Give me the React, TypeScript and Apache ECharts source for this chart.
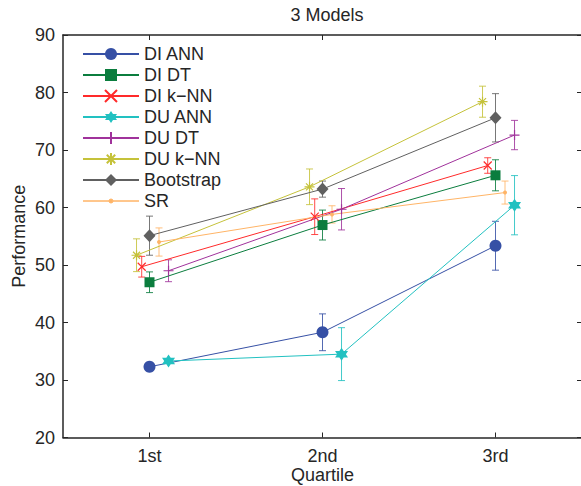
import React, { useEffect, useRef } from "react";
import * as echarts from "echarts";

// ---- data ----
const quartileLabels = ["1st", "2nd", "3rd"];
const quartilePos = [1, 2, 3];
const seriesNames = ["DI ANN", "DI DT", "DI k\u2212NN", "DU ANN", "DU DT", "DU k\u2212NN", "Bootstrap", "SR"];
// horizontal dodge of each model around the quartile position (in x units)
const xOffsets = [0, 0, -0.045, 0.11, 0.11, -0.075, 0, 0.055];

const diAnn = [32.3, 38.3, 53.35];
const diDt = [47.0, 56.95, 65.6];
const diKnn = [49.7, 58.4, 67.3];
const duAnn = [33.3, 34.5, 60.4];
const duDt = [49.0, 59.7, 72.6];
const duKnn = [51.7, 63.6, 78.4];
const bootstrap = [55.1, 63.2, 75.6];
const sr = [54.0, 58.8, 62.6];

const diAnnErr = [0.4, 3.2, 4.25];
const diDtErr = [1.8, 2.6, 2.7];
const diKnnErr = [1.8, 3.1, 1.35];
const duAnnErr = [0.4, 4.6, 5.15];
const duDtErr = [1.9, 3.6, 2.55];
const duKnnErr = [2.85, 3.1, 2.7];
const bootstrapErr = [3.4, 1.4, 4.2];
const srErr = [2.45, 1.5, 2.0];

const allValues = [diAnn, diDt, diKnn, duAnn, duDt, duKnn, bootstrap, sr];
const allErrs = [diAnnErr, diDtErr, diKnnErr, duAnnErr, duDtErr, duKnnErr, bootstrapErr, srErr];

// ---- styles ----
const colors = ["#3650a5", "#0b7d3e", "#ff2a2a", "#22c1c1", "#a0329b", "#c5c23a", "#606060", "#ffb466"];
const FONT = "'Liberation Sans', Arial, Helvetica, sans-serif";
const TXT = "#262626";

const hexagram =
  "path://M10 0 L12.887 5 L18.66 5 L15.774 10 L18.66 15 L12.887 15 L10 20 L7.113 15 L1.34 15 L4.226 10 L1.34 5 L7.113 5 Z";
const xMark = "path://M0 0 L10 10 M10 0 L0 10";
const plusMark = "path://M5 0 L5 10 M0 5 L10 5";
const starMark = "path://M5 0 L5 10 M0 5 L10 5 M1.5 1.5 L8.5 8.5 M8.5 1.5 L1.5 8.5";
const dotLegendIcon = "path://M0 2 L26 2 A2 2 0 1 1 30 2 L56 2 L30 2 A2 2 0 1 1 26 2 Z";

const symbols = ["circle", "rect", xMark, hexagram, plusMark, starMark, "diamond", "circle"];
const symbolSizes: any[] = [12, 10, 8, 13, 10, 10, [12, 13], 4];
const strokeMarks = [false, false, true, false, true, true, false, false];

export default function App() {
  const ref = useRef<HTMLDivElement>(null);

  useEffect(() => {
    if (!ref.current) return;
    const chart = echarts.init(ref.current, null, { renderer: "svg" });

    const errSeries: any[] = allValues.map((vals, i) => ({
      type: "custom",
      name: seriesNames[i] + " err",
      data: vals.map((v, j) => [quartilePos[j] + xOffsets[i], v - allErrs[i][j], v + allErrs[i][j]]),
      encode: { x: 0, y: [1, 2] },
      z: 2,
      silent: true,
      renderItem: (params: any, api: any) => {
        const x = api.value(0);
        const top = api.coord([x, api.value(2)]);
        const bot = api.coord([x, api.value(1)]);
        const w = 3.5;
        const style = { stroke: colors[i], lineWidth: 1, opacity: 0.85 };
        return {
          type: "group",
          children: [
            { type: "line", shape: { x1: top[0], y1: top[1], x2: bot[0], y2: bot[1] }, style },
            { type: "line", shape: { x1: top[0] - w, y1: top[1], x2: top[0] + w, y2: top[1] }, style },
            { type: "line", shape: { x1: bot[0] - w, y1: bot[1], x2: bot[0] + w, y2: bot[1] }, style },
          ],
        };
      },
    }));

    const lineSeries: any[] = allValues.map((vals, i) => ({
      type: "line",
      name: seriesNames[i],
      data: vals.map((v, j) => [quartilePos[j] + xOffsets[i], v]),
      symbol: symbols[i],
      symbolSize: symbolSizes[i],
      showSymbol: true,
      z: 3,
      lineStyle: { color: colors[i], width: 1 },
      itemStyle: strokeMarks[i]
        ? { color: colors[i], borderColor: colors[i], borderWidth: 1.2 }
        : { color: colors[i], borderWidth: 0 },
      emphasis: { disabled: true },
    }));

    const legendData = seriesNames.map((n, i) =>
      n === "SR"
        ? { name: n, icon: dotLegendIcon, itemStyle: { color: colors[i], borderColor: colors[i], borderWidth: 1 } }
        : { name: n }
    );

    chart.setOption({
      animation: false,
      backgroundColor: "#ffffff",
      textStyle: { fontFamily: FONT },
      title: {
        text: "3 Models",
        left: 322,
        textAlign: "center",
        top: 1,
        textStyle: { fontSize: 18, fontWeight: "normal", color: TXT, fontFamily: FONT },
      },
      legend: {
        data: legendData,
        orient: "vertical",
        left: 82,
        top: 45,
        padding: 0,
        itemWidth: 56,
        itemHeight: 15,
        itemGap: 3,
        textStyle: { fontSize: 18, color: TXT, fontFamily: FONT },
        selectedMode: false,
      },
      grid: { left: 63, top: 35, width: 519, height: 402.5, containLabel: false, outerBoundsMode: "none" },
      xAxis: [
        {
          type: "value",
          min: 0.5,
          max: 3.5,
          position: "bottom",
          name: "Quartile",
          nameLocation: "middle",
          nameGap: 29,
          nameMoveOverlap: false,
          nameTextStyle: { fontSize: 18, lineHeight: 16, color: TXT, fontFamily: FONT },
          axisLine: { show: true, lineStyle: { color: TXT, width: 1.5 } },
          axisTick: { show: true, inside: true, length: 5, customValues: quartilePos, lineStyle: { color: TXT, width: 1 } },
          axisLabel: {
            customValues: quartilePos,
            formatter: (v: number) => quartileLabels[Math.round(v) - 1] ?? "",
            fontSize: 18,
            color: TXT,
            margin: 9,
            fontFamily: FONT,
          },
          splitLine: { show: false },
        },
        {
          type: "value",
          min: 0.5,
          max: 3.5,
          position: "top",
          axisLine: { show: true, lineStyle: { color: TXT, width: 1.5 } },
          axisTick: { show: true, inside: true, length: 5, customValues: quartilePos, lineStyle: { color: TXT, width: 1 } },
          axisLabel: { show: false },
          splitLine: { show: false },
        },
      ],
      yAxis: [
        {
          type: "value",
          min: 20,
          max: 90,
          interval: 10,
          position: "left",
          name: "Performance",
          nameLocation: "middle",
          nameGap: 35,
          nameMoveOverlap: false,
          nameTextStyle: { fontSize: 18, color: TXT, fontFamily: FONT },
          axisLine: { show: true, lineStyle: { color: TXT, width: 1.5 } },
          axisTick: { show: true, inside: true, length: 5, lineStyle: { color: TXT, width: 1 } },
          axisLabel: { fontSize: 18, color: TXT, margin: 8, fontFamily: FONT },
          splitLine: { show: false },
        },
        {
          type: "value",
          min: 20,
          max: 90,
          interval: 10,
          position: "right",
          axisLine: { show: true, lineStyle: { color: TXT, width: 1.5 } },
          axisTick: { show: true, inside: true, length: 5, lineStyle: { color: TXT, width: 1 } },
          axisLabel: { show: false },
          splitLine: { show: false },
        },
      ],
      series: [...errSeries, ...lineSeries],
    });

    return () => chart.dispose();
  }, []);

  return (
    <div
      ref={ref}
      style={{ position: "fixed", left: 0, top: 0, width: 581, height: 486, background: "#fff" }}
    />
  );
}
